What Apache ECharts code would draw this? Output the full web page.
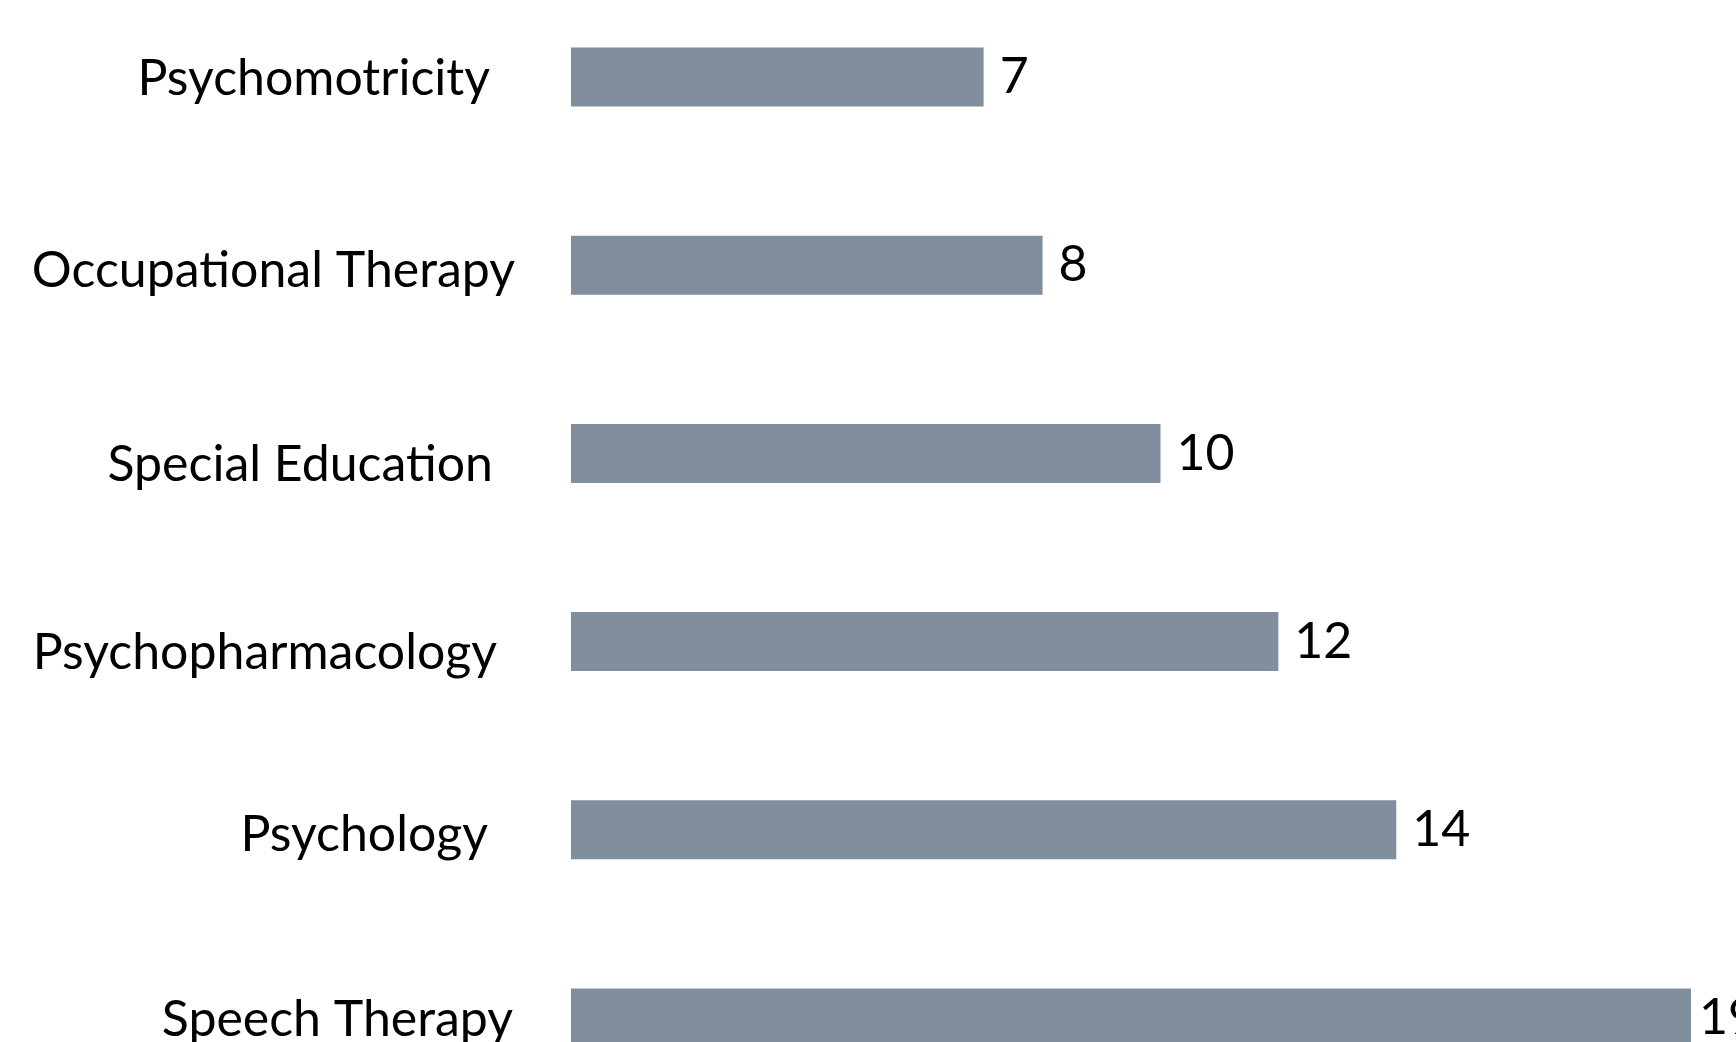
<!DOCTYPE html>
<html>
<head>
<meta charset="utf-8">
<title>Therapies</title>
<script src="https://cdn.jsdelivr.net/npm/echarts@6/dist/echarts.min.js"></script>
<style>
  html, body { margin: 0; padding: 0; background: #fff; }
  #main { width: 1736px; height: 1042px; }
</style>
</head>
<body>
<div id="main"></div>
<script>
// top to bottom as drawn
var categories = ['Psychomotricity', 'Occupational Therapy', 'Special Education', 'Psychopharmacology', 'Psychology', 'Speech Therapy'];
var counts = [7, 8, 10, 12, 14, 19];

// the labels in the original are not lined up, nudge each one [left, down]
var labelNudge = [[25, 2], [0, 6], [22, 11], [18, 11], [27, 5], [2, 2]];

var myChart = echarts.init(document.getElementById('main'));

var font = 'Lato';

// one rich style per label so each can be nudged on its own
var richStyles = {};
categories.forEach(function (name, i) {
    richStyles['c' + i] = {
        fontFamily: font,
        fontSize: 50,
        color: '#000000',
        padding: [labelNudge[i][1] * 2, labelNudge[i][0], 0, 0]
    };
});

var barData = counts.map(function (v, i) {
    if (i === counts.length - 1) {
        return { value: v, label: { distance: 8 } };
    }
    return v;
});

var option = {
    backgroundColor: '#ffffff',
    animation: false,
    grid: {
        left: 571,
        right: 45,
        top: -17,
        height: 1129,
        containLabel: false,
        outerBoundsMode: 'none'
    },
    xAxis: {
        type: 'value',
        min: 0,
        max: 19,
        show: false
    },
    yAxis: {
        type: 'category',
        inverse: true,
        data: categories,
        axisLine: { show: false },
        axisTick: { show: false },
        splitLine: { show: false },
        axisLabel: {
            margin: 56,
            align: 'right',
            verticalAlign: 'middle',
            formatter: function (value, idx) {
                return '{c' + idx + '|' + value + '}';
            },
            rich: richStyles
        }
    },
    series: [
        {
            type: 'bar',
            data: barData,
            barWidth: 59,
            itemStyle: { color: '#818e9e' },
            label: {
                show: true,
                position: 'right',
                distance: 16,
                fontFamily: font,
                fontSize: 50,
                color: '#000000'
            }
        }
    ]
};

myChart.setOption(option);
</script>
</body>
</html>
